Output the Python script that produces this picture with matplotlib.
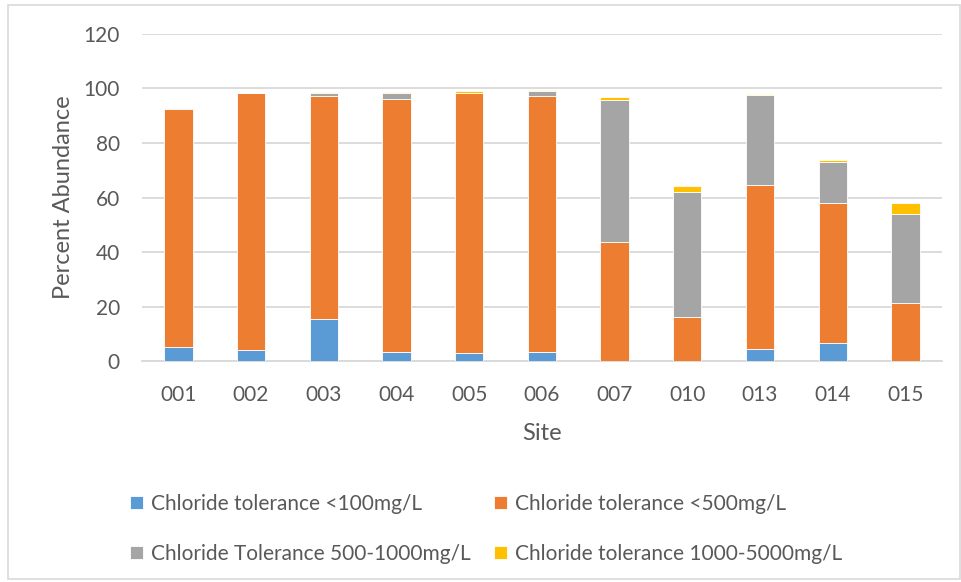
import matplotlib
matplotlib.use("Agg")
import matplotlib.pyplot as plt
import numpy as np
from matplotlib.patches import Rectangle

sites = ["001", "002", "003", "004", "005", "006", "007", "010", "013", "014", "015"]
lt100 = [5.3, 3.9, 15.6, 3.4, 2.9, 3.4, 0, 0, 4.4, 6.7, 0]
lt500 = [87.1, 94.5, 81.5, 92.7, 95.6, 93.7, 43.5, 16.1, 60.1, 51.4, 21.3]
t500_1000 = [0.5, 0.1, 1.1, 2.1, 0.0, 1.9, 52.2, 46.1, 33.1, 15.1, 32.6]
t1000_5000 = [0.0, 0.0, 0.5, 0.5, 0.5, 0.5, 1.0, 2.0, 0.4, 0.5, 4.2]

series = [
    ("Chloride tolerance <100mg/L", lt100, "#5B9BD5"),
    ("Chloride tolerance <500mg/L", lt500, "#ED7D31"),
    ("Chloride Tolerance 500-1000mg/L", t500_1000, "#A5A5A5"),
    ("Chloride tolerance 1000-5000mg/L", t1000_5000, "#FFC000"),
]

plt.rcParams['font.family'] = ['Lato', 'DejaVu Sans']
txt = "#595959"

fig = plt.figure(figsize=(9.62, 5.82), dpi=100)
ax = fig.add_axes([0.1476, 0.3797, 0.8314, 0.5619])

x = np.arange(len(sites))
bottom = np.zeros(len(sites))
handles = []
for label, vals, col in series:
    v = np.array(vals)
    b = ax.bar(x, v, bottom=bottom, width=0.39, color=col, edgecolor="white",
               linewidth=0.6, label=label, zorder=3)
    handles.append(b)
    bottom += v

ax.set_xlim(-0.5, len(sites) - 0.5)
ax.set_ylim(0, 120)
ax.set_yticks(range(0, 121, 20))
ax.set_xticks(x)
ax.set_xticklabels(sites)
ax.yaxis.grid(True, color="#D9D9D9", linewidth=1.3, zorder=0)
for s in ["top", "right", "left"]:
    ax.spines[s].set_visible(False)
ax.spines["bottom"].set_color("#D9D9D9")
ax.spines["bottom"].set_linewidth(1.3)
ax.tick_params(axis="both", length=0, labelsize=15, colors=txt)
ax.tick_params(axis="x", pad=17)
ax.tick_params(axis="y", pad=16)
ax.set_xlabel("Site", fontsize=17, color=txt, labelpad=13)
ax.set_ylabel("Percent Abundance", fontsize=17, color=txt, labelpad=7)

order = [0, 2, 1, 3]
leg = fig.legend(handles=[handles[i] for i in order],
                 labels=[series[i][0] for i in order], ncol=2,
                 loc="upper left", bbox_to_anchor=(130.0 / 962, 1 - 494.0 / 582),
                 borderaxespad=0, borderpad=0,
                 frameon=False, fontsize=15, labelcolor=txt,
                 handlelength=0.62, handleheight=0.62, handletextpad=0.37,
                 columnspacing=1.14, labelspacing=1.44)

fig.patches.append(Rectangle((0.008, 0.006), 0.99, 0.985, transform=fig.transFigure,
                             fill=False, edgecolor="#D9D9D9", linewidth=1.2))

fig.savefig("out.png", dpi=100, facecolor="white")
